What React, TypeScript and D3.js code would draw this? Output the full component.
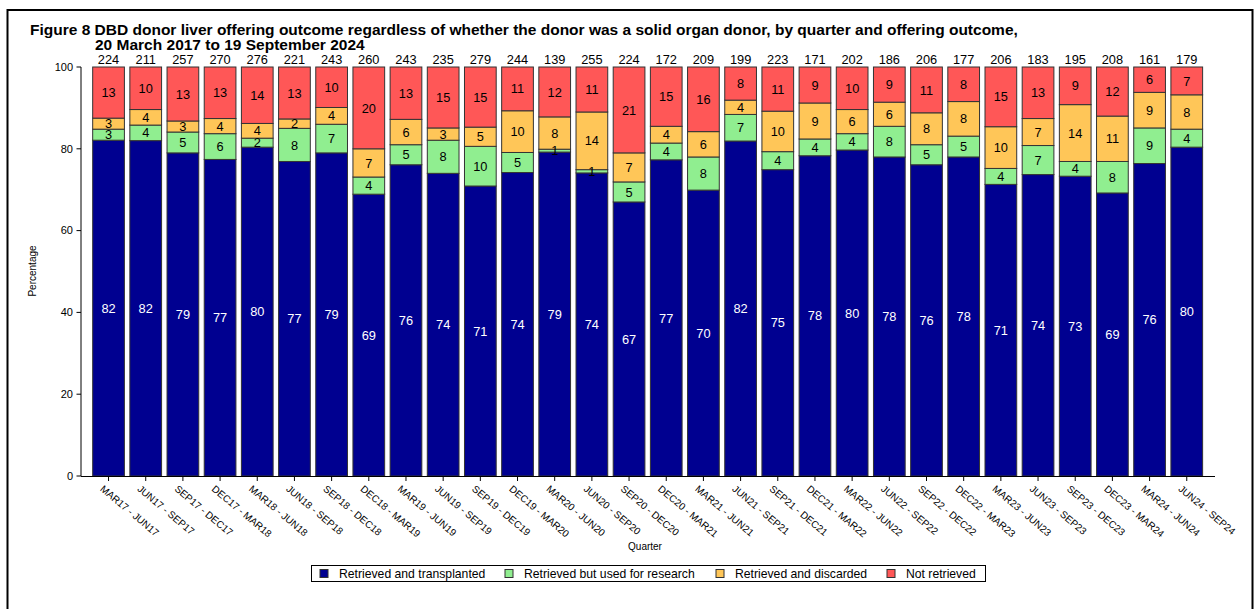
import React from "react";
import * as d3 from "d3";

const categories = [
  "MAR17 - JUN17", "JUN17 - SEP17", "SEP17 - DEC17", "DEC17 - MAR18", "MAR18 - JUN18",
  "JUN18 - SEP18", "SEP18 - DEC18", "DEC18 - MAR19", "MAR19 - JUN19", "JUN19 - SEP19",
  "SEP19 - DEC19", "DEC19 - MAR20", "MAR20 - JUN20", "JUN20 - SEP20", "SEP20 - DEC20",
  "DEC20 - MAR21", "MAR21 - JUN21", "JUN21 - SEP21", "SEP21 - DEC21", "DEC21 - MAR22",
  "MAR22 - JUN22", "JUN22 - SEP22", "SEP22 - DEC22", "DEC22 - MAR23", "MAR23 - JUN23",
  "JUN23 - SEP23", "SEP23 - DEC23", "DEC23 - MAR24", "MAR24 - JUN24", "JUN24 - SEP24",
];

const totals = [224, 211, 257, 270, 276, 221, 243, 260, 243, 235, 279, 244, 139, 255, 224, 172, 209, 199, 223, 171, 202, 186, 206, 177, 206, 183, 195, 208, 161, 179];

const transplanted = [82.1, 82.0, 79.0, 77.4, 80.4, 76.9, 79.0, 68.9, 76.1, 74.0, 70.9, 74.2, 79.2, 74.1, 67.0, 77.3, 69.9, 81.9, 74.9, 78.3, 79.7, 78.0, 76.1, 78.0, 71.3, 73.7, 73.3, 69.2, 76.4, 80.4];
const research = [2.7, 3.8, 5.1, 6.3, 2.2, 8.1, 7.0, 4.2, 4.9, 8.1, 9.7, 4.9, 0.7, 0.8, 4.9, 4.1, 8.1, 6.5, 4.4, 4.1, 4.0, 7.5, 4.9, 5.1, 3.9, 7.1, 3.6, 7.7, 8.7, 4.4];
const discarded = [2.7, 3.8, 2.7, 3.7, 3.6, 2.3, 4.1, 6.9, 6.2, 3.0, 4.7, 10.2, 7.9, 14.1, 7.1, 4.1, 6.2, 3.5, 9.9, 8.8, 5.9, 5.9, 7.8, 8.45, 10.2, 6.6, 13.9, 11.1, 8.7, 8.4];
const notRetrieved = [12.5, 10.4, 13.2, 12.6, 13.8, 12.7, 9.9, 20.0, 12.8, 14.9, 14.7, 10.7, 12.2, 11.0, 21.0, 14.5, 15.8, 8.1, 10.8, 8.8, 10.4, 8.6, 11.2, 8.45, 14.6, 12.6, 9.2, 12.0, 6.2, 6.8];

const seriesNames = ["Retrieved and transplanted", "Retrieved but used for research", "Retrieved and discarded", "Not retrieved"];
const seriesColors = ["#000090", "#90EE90", "#FFC658", "#FF5757"];
const labelColors = ["#ffffff", "#000000", "#000000", "#000000"];
const yTicks = [0, 20, 40, 60, 80, 100];

const FONT = "Arial, 'Liberation Sans', Helvetica, sans-serif";

export default function App() {
  const x = d3
    .scaleBand<string>()
    .domain(categories)
    .range([89.95, 1205.35])
    .paddingInner(0.147)
    .paddingOuter(0.0735);
  const y = d3.scaleLinear().domain([0, 100]).range([476, 67]);

  const table = categories.map((c, i) => ({
    cat: c,
    s0: transplanted[i],
    s1: research[i],
    s2: discarded[i],
    s3: notRetrieved[i],
  }));
  const keys = ["s0", "s1", "s2", "s3"];
  const stacked = d3.stack<any>().keys(keys)(table);

  const bw = x.bandwidth();

  const legendItems = [
    { mx: 320, tx: 339 },
    { mx: 505, tx: 524 },
    { mx: 716, tx: 735 },
    { mx: 887, tx: 906 },
  ];

  return (
    <svg
      width={1255}
      height={609}
      style={{ position: "absolute", left: 0, top: 0, background: "#fff" }}
      fontFamily={FONT}
    >
      <rect x={7.5} y={10} width={1245} height={640} fill="#fff" stroke="#000" strokeWidth={2} />

      <text x={30} y={35} fontSize={15.5} fontWeight="bold" fill="#000">
        Figure 8 DBD donor liver offering outcome regardless of whether the donor was a solid organ donor, by quarter and offering outcome,
      </text>
      <text x={95} y={50} fontSize={15.5} fontWeight="bold" fill="#000">
        20 March 2017 to 19 September 2024
      </text>

      {/* bars */}
      {stacked.map((layer, si) => (
        <g key={si}>
          {layer.map((d, i) => {
            const cat = categories[i];
            const y0 = y(d[0]);
            const y1 = y(d[1]);
            return (
              <rect
                key={cat}
                x={x(cat)}
                y={y1}
                width={bw}
                height={y0 - y1}
                fill={seriesColors[si]}
                stroke="#333"
                strokeWidth={1}
              />
            );
          })}
        </g>
      ))}

      {/* segment labels */}
      {stacked.map((layer, si) => (
        <g key={"l" + si}>
          {layer.map((d, i) => {
            const cat = categories[i];
            const v = d[1] - d[0];
            const cy = (y(d[0]) + y(d[1])) / 2;
            return (
              <text
                key={cat}
                x={(x(cat) as number) + bw / 2}
                y={cy}
                dy="0.36em"
                textAnchor="middle"
                fontSize={12.8}
                fill={labelColors[si]}
              >
                {Math.round(v)}
              </text>
            );
          })}
        </g>
      ))}

      {/* totals */}
      {categories.map((cat, i) => (
        <text
          key={"t" + cat}
          x={(x(cat) as number) + bw / 2}
          y={64}
          textAnchor="middle"
          fontSize={12.8}
          fill="#000"
        >
          {totals[i]}
        </text>
      ))}

      {/* y axis */}
      <line x1={81} x2={81} y1={y(100)} y2={y(0)} stroke="#000" strokeWidth={1} />
      {yTicks.map((t) => (
        <g key={"yt" + t}>
          <line x1={76.5} x2={81} y1={y(t)} y2={y(t)} stroke="#000" />
          <text x={73} y={y(t)} dy="0.35em" textAnchor="end" fontSize={11} fill="#000">
            {t}
          </text>
        </g>
      ))}
      <text
        transform="translate(36,271) rotate(-90)"
        textAnchor="middle"
        fontSize={10}
        fill="#000"
      >
        Percentage
      </text>

      {/* x axis */}
      <line x1={81} x2={1215} y1={476.5} y2={476.5} stroke="#000" strokeWidth={1} />
      {categories.map((cat) => {
        const cx = (x(cat) as number) + bw / 2;
        return (
          <g key={"xt" + cat}>
            <line x1={cx} x2={cx} y1={476.5} y2={481} stroke="#000" />
            <text
              transform={`translate(${cx - 9},${490}) rotate(40)`}
              fontSize={10}
              fill="#000"
            >
              {cat}
            </text>
          </g>
        );
      })}
      <text x={645} y={550} textAnchor="middle" fontSize={10} fill="#000">
        Quarter
      </text>

      {/* legend */}
      <rect x={311.5} y={565.5} width={674} height={16} fill="#fff" stroke="#000" strokeWidth={1} />
      {seriesNames.map((n, i) => (
        <g key={"lg" + i}>
          <rect
            x={legendItems[i].mx}
            y={569.5}
            width={8}
            height={8}
            fill={seriesColors[i]}
            stroke="#333"
            strokeWidth={1}
          />
          <text x={legendItems[i].tx} y={577.5} fontSize={12.2} fill="#000">
            {n}
          </text>
        </g>
      ))}
    </svg>
  );
}
